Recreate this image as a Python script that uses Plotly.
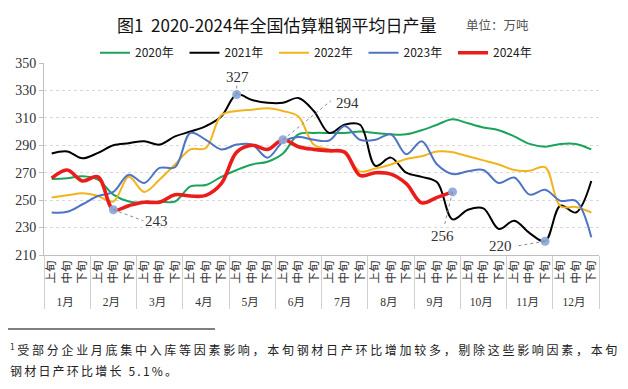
import plotly.graph_objects as go

# ---------------- data ----------------
months = ["1月", "2月", "3月", "4月", "5月", "6月", "7月", "8月", "9月", "10月", "11月", "12月"]
periods = ["上旬", "中旬", "下旬"]
years = ["2020年", "2021年", "2022年", "2023年", "2024年"]

y2020 = [265.5, 266, 267.5, 265, 254, 249, 248, 249, 249, 260, 261, 267,
         272, 276, 278, 284, 298, 299, 299, 299, 300, 299, 298, 298,
         301, 305, 309, 306, 303, 301, 296.5, 291, 289, 291, 291, 287]
y2021 = [284, 285.5, 280.5, 284.5, 290, 291.5, 293, 290.5, 296.5, 300, 304, 311,
         327, 323, 321, 321, 324.5, 315, 299, 305, 305, 275, 281, 270,
         267, 263, 236, 243, 244, 229, 235, 226, 220, 246, 241, 264]
y2022 = [252, 253.5, 255, 253, 249, 267, 256, 265, 276, 287, 288, 312,
         315, 316, 317, 315, 311, 290.5, 287, 284.5, 271, 273, 276, 280,
         282, 285.5, 285, 282, 279, 276, 272, 271.5, 274, 245.5, 245, 241]
y2023 = [241, 241.5, 247, 253, 256, 268.5, 262.5, 273.5, 274, 299, 294, 287,
         290.5, 290.5, 281, 292.5, 296, 294, 293.5, 304, 294, 294, 298, 283.5,
         293, 276, 269, 271, 272, 262.5, 266.5, 254, 257.5, 249.5, 249.5, 223]
y2024 = [266, 272, 264, 267, 243, 246, 248.5, 248.5, 254, 253, 253.5, 262,
         285, 290, 287, 294, 289, 287, 286, 285, 268, 270, 269, 262,
         248, 252, 256]

# highlighted points: (series, index)
highlights = [("2024年", 4), ("2021年", 12), ("2024年", 15), ("2024年", 26), ("2021年", 32)]

title_text = "图1\u00a0\u00a02020-2024年全国估算粗钢平均日产量"
unit_text = "单位：万吨"
note_line1 = "受部分企业月底集中入库等因素影响，本旬钢材日产环比增加较多，剔除这些影响因素，本旬"
note_line2 = "钢材日产环比增长 5.1%。"

# ---------------- style ----------------
colors = {"2020年": "#1ba35c", "2021年": "#000000", "2022年": "#f2b31c",
          "2023年": "#4f74c4", "2024年": "#ea1c1c"}
widths = {"2020年": 2, "2021年": 2, "2022年": 2, "2023年": 2, "2024年": 3.6}
series = {"2020年": y2020, "2021年": y2021, "2022年": y2022, "2023年": y2023, "2024年": y2024}

# the page body has an 8px margin: figure is placed at (8, 8) of the window
OFF = 8
W, H = 628 - OFF, 389 - OFF
L, R, T, B = 44 - OFF, 29, 63 - OFF, 134
pw, ph = W - L - R, H - T - B


def px(x, y):
    """reference window pixel -> paper coords"""
    return (x - OFF - L) / pw, (H - B - (y - OFF)) / ph


xm = [m for m in months for _ in periods]
xp = [p for _ in months for p in periods]

fig = go.Figure()
for name in years:
    vals = series[name]
    n = len(vals)
    fig.add_trace(go.Scatter(
        x=[xm[:n], xp[:n]], y=vals, mode="lines", name=name,
        line=dict(color=colors[name], width=widths[name], shape="spline", smoothing=1.0),
        hoverinfo="skip"))

hx = [series[s][i] for s, i in highlights]
fig.add_trace(go.Scatter(
    x=[[xm[i] for _, i in highlights], [xp[i] for _, i in highlights]],
    y=hx, mode="markers", showlegend=False,
    marker=dict(size=9, color="rgba(142,170,219,0.95)"), hoverinfo="skip"))

# label offsets in pixels (dx, dy down) and leader end offsets
label_off = [(43, 11), (1, -18), (65, -37), (-10, 44), (-45, 5)]
leader_end = [(30, 11), (0, -9), (48, -39), (-8, 33), (-30, 5)]
for (s, i), (dx, dy), (ex, ey) in zip(highlights, label_off, leader_end):
    v = series[s][i]
    fig.add_annotation(x=i, y=v, xref="x", yref="y", text=str(int(round(v))),
                       showarrow=False, xshift=dx, yshift=-dy,
                       font=dict(family="Liberation Serif", size=15, color="#333333"))
    fig.add_shape(type="line", xref="x", yref="y", xsizemode="pixel", ysizemode="pixel",
                  xanchor=i, yanchor=v, x0=0, y0=0, x1=ex, y1=-ey,
                  line=dict(color="#8c8c8c", width=1, dash="dot"))

# title and unit
fig.add_annotation(xref="paper", yref="paper", x=px(276, 0)[0], y=px(0, 24)[1],
                   text=title_text, showarrow=False, xanchor="center", yanchor="middle",
                   font=dict(family="Noto Sans CJK SC", size=17, color="#111111"))
fig.add_annotation(xref="paper", yref="paper", x=px(464, 0)[0], y=px(0, 25)[1],
                   text=unit_text, showarrow=False, xanchor="left", yanchor="middle",
                   font=dict(family="Noto Sans CJK SC", size=12.5, color="#555555"))

# footnote
fx0, fy0 = px(OFF, 329)
fx1, _ = px(215, 329)
fig.add_shape(type="line", xref="paper", yref="paper", x0=fx0, x1=fx1, y0=fy0, y1=fy0,
              line=dict(color="#000000", width=1))
fig.add_annotation(xref="paper", yref="paper", x=px(OFF, 0)[0], y=px(0, 349)[1],
                   text="<sup>1</sup> <span style='letter-spacing:2.7px'>" + note_line1 + "</span>",
                   showarrow=False, xanchor="left", yanchor="middle", align="left",
                   font=dict(family="Noto Sans CJK SC", size=12, color="#222222"))
fig.add_annotation(xref="paper", yref="paper", x=px(OFF, 0)[0], y=px(0, 370)[1],
                   text="<span style='letter-spacing:2.2px'>" + note_line2 + "</span>",
                   showarrow=False, xanchor="left", yanchor="middle", align="left",
                   font=dict(family="Noto Sans CJK SC", size=12, color="#222222"))

fig.update_layout(
    width=W, height=H, autosize=False,
    margin=dict(l=L, r=R, t=T, b=B, pad=0, autoexpand=False),
    paper_bgcolor="white", plot_bgcolor="white",
    showlegend=True,
    legend=dict(orientation="h", xref="container", yref="container",
                x=(95 - OFF) / W, y=1 - (52.7 - OFF) / H, xanchor="left", yanchor="middle",
                entrywidth=44.5, font=dict(family="Noto Sans CJK SC", size=12, color="#222222"),
                bgcolor="rgba(0,0,0,0)", borderwidth=0, tracegroupgap=0),
    xaxis=dict(type="multicategory", showline=True, linecolor="#bfbfbf", linewidth=1,
               showgrid=False, tickangle=-90, ticks="outside", ticklen=5,
               tickcolor="rgba(0,0,0,0)", automargin=False,
               tickfont=dict(family="Liberation Serif, Noto Sans CJK SC", size=11.5, color="#333333"),
               showdividers=True, dividercolor="#d0d0d0", dividerwidth=1,
               range=[-0.5, 35.5]),
    yaxis=dict(range=[210, 350], dtick=20, tick0=210, showline=True, linecolor="#bfbfbf",
               linewidth=1, ticks="outside", ticklen=4, tickcolor="#bfbfbf", automargin=False,
               showgrid=True, gridcolor="#d9d9d9", griddash="dot", gridwidth=1,
               zeroline=False,
               tickfont=dict(family="Liberation Serif", size=14, color="#333333")),
)

fig.write_html("out.html")
